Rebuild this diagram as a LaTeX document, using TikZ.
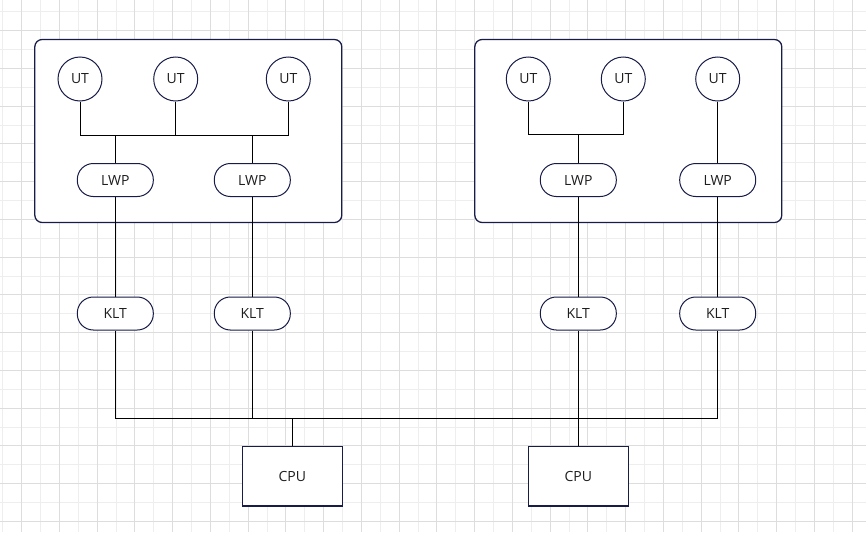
\documentclass[tikz,border=0pt]{standalone}
\usepackage{fontspec}
\setmainfont{Open Sans}
\usetikzlibrary{calc}
\definecolor{shapeline}{RGB}{24,28,72}
\definecolor{txt}{RGB}{30,30,30}
\definecolor{gridminor}{RGB}{238,238,238}
\definecolor{gridmajor}{RGB}{221,221,221}
\begin{document}
\begin{tikzpicture}[x=0.75pt,y=-0.75pt,
  every node/.style={font=\fontsize{10.5}{12}\selectfont, text=txt, inner sep=0pt},
  container/.style={draw=shapeline, line width=0.95pt, rounded corners=5.5pt, fill=white, minimum width=307*0.75pt, minimum height=183*0.75pt},
  ut/.style={draw=shapeline, line width=0.75pt, circle, fill=white, minimum size=44*0.75pt},
  pill/.style={draw=shapeline, line width=0.75pt, rectangle, rounded corners=12pt, fill=white, minimum width=76*0.75pt, minimum height=33*0.75pt},
  cpu/.style={draw=shapeline, line width=0.95pt, rectangle, fill=white, minimum width=100*0.75pt, minimum height=59.5*0.75pt},
  wire/.style={draw=black, line width=0.75pt}]
\useasboundingbox (0,0) rectangle (866,532);
\fill[white] (0,0) rectangle (866,532);
% grid
\foreach \i in {0,...,46} {
  \draw[gridminor, line width=0.75pt] ({2.8+18.875*\i},0) -- ({2.8+18.875*\i},532);
}
\foreach \j in {0,...,28} {
  \draw[gridminor, line width=0.75pt] (0,{11.8+18.875*\j}) -- (866,{11.8+18.875*\j});
}
\foreach \i in {0,...,22} {
  \draw[gridmajor, line width=0.75pt] ({21.7+37.75*\i},0) -- ({21.7+37.75*\i},532);
}
\foreach \j in {0,...,13} {
  \draw[gridmajor, line width=0.75pt] (0,{30.7+37.75*\j}) -- (866,{30.7+37.75*\j});
}
% containers
\node[container] (boxL) at (188.3,131) {};
\node[container] (boxR) at (628.3,131) {};
% UT nodes
\node[ut] (utA) at (80,79) {UT};
\node[ut] (utB) at (175.7,79) {UT};
\node[ut] (utC) at (288.3,79) {UT};
\node[ut] (utD) at (528.3,79) {UT};
\node[ut] (utE) at (623.3,79) {UT};
\node[ut] (utF) at (717.7,79) {UT};
% LWP
\node[pill] (lwpA) at (115.3,180) {LWP};
\node[pill] (lwpB) at (252.3,180) {LWP};
\node[pill] (lwpC) at (578.3,180) {LWP};
\node[pill] (lwpD) at (717.7,180) {LWP};
% KLT
\node[pill] (kltA) at (115.3,313.5) {KLT};
\node[pill] (kltB) at (252.3,313.5) {KLT};
\node[pill] (kltC) at (578.3,313.5) {KLT};
\node[pill] (kltD) at (717.7,313.5) {KLT};
% CPU
\node[cpu] (cpuA) at (292.3,476.3) {CPU};
\node[cpu] (cpuB) at (578.3,476.3) {CPU};
% bus coordinates
\coordinate (busTL) at (0,135);
\coordinate (busTR) at (0,134.5);
\coordinate (busB) at (0,418);
% left top bus
\draw[wire] (utA.south) -- (utA.south |- busTL) -- (utC.south |- busTL) -- (utC.south);
\draw[wire] (utB.south) -- (utB.south |- busTL);
\draw[wire] (lwpA.north) -- (lwpA.north |- busTL);
\draw[wire] (lwpB.north) -- (lwpB.north |- busTL);
% right top bus
\draw[wire] (utD.south) -- (utD.south |- busTR) -- (utE.south |- busTR) -- (utE.south);
\draw[wire] (lwpC.north) -- (lwpC.north |- busTR);
\draw[wire] (utF.south) -- (lwpD.north);
% LWP to KLT
\draw[wire] (lwpA.south) -- (kltA.north);
\draw[wire] (lwpB.south) -- (kltB.north);
\draw[wire] (lwpC.south) -- (kltC.north);
\draw[wire] (lwpD.south) -- (kltD.north);
% bottom bus
\draw[wire] (kltA.south) -- (kltA.south |- busB) -- (kltD.south |- busB) -- (kltD.south);
\draw[wire] (kltB.south) -- (kltB.south |- busB);
\draw[wire] (kltC.south) -- (cpuB.north);
\draw[wire] (cpuA.north) -- (cpuA.north |- busB);
\end{tikzpicture}
\end{document}
